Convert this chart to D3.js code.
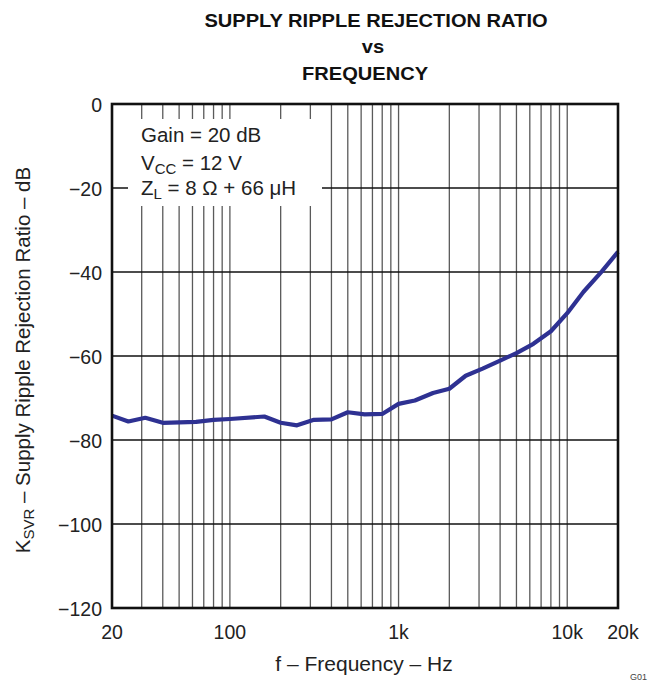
<!DOCTYPE html>
<html><head><meta charset="utf-8">
<script src="https://cdn.jsdelivr.net/npm/d3@7"></script>
<style>body{margin:0;background:#fff}svg{display:block;font-family:"Liberation Sans",Arial,sans-serif}</style>
</head><body><svg id="c" width="653" height="681"></svg>
<script>
const freqs = [20,25,31.5,40,63,80,100,160,200,250,315,400,500,630,800,1000,1250,1600,2000,2500,3150,4000,5000,6300,8000,10000,12500,16000,20000];
const ksvr  = [-74.2,-75.6,-74.7,-75.9,-75.7,-75.2,-75.0,-74.4,-75.9,-76.5,-75.2,-75.1,-73.4,-73.9,-73.8,-71.4,-70.6,-68.8,-67.8,-64.7,-63.0,-61.1,-59.3,-57.1,-54.1,-49.8,-44.7,-39.9,-35.2];
const xTicks = [20,100,1000,10000,20000];
const xTickLabels = ["20","100","1k","10k","20k"];
const yTicks = [0,-20,-40,-60,-80,-100,-120];
const yTickLabels = ["0","\u221220","\u221240","\u221260","\u221280","\u2212100","\u2212120"];
const titleLines = ["SUPPLY RIPPLE REJECTION RATIO","vs","FREQUENCY"];

const svg = d3.select("#c");
const L=112,R=618,T=104,B=608;
const x = d3.scaleLog().domain([20,20000]).range([L,R]);
const y = d3.scaleLinear().domain([-120,0]).range([B,T]);

// vertical grid lines
const vgrid = [];
[10,100,1000,10000].forEach(d=>{for(let k=1;k<10;k++){const f=d*k; if(f>20&&f<20000) vgrid.push(f);}});
const g = svg.append("g");
g.selectAll("line.v").data(vgrid).enter().append("line")
 .attr("x1",d=>x(d)).attr("x2",d=>x(d)).attr("y1",T).attr("y2",B)
 .attr("stroke","#5a5a5a").attr("stroke-width",1.3);
g.selectAll("line.h").data(yTicks.filter(d=>d>-120&&d<0)).enter().append("line")
 .attr("x1",L).attr("x2",R).attr("y1",d=>y(d)).attr("y2",d=>y(d))
 .attr("stroke","#111").attr("stroke-width",1.3);

// legend box (covers grid)
svg.append("rect").attr("x",128).attr("y",119).attr("width",194).attr("height",87).attr("fill","#fff");
const lfs = 20.5;
svg.append("text").attr("font-size",lfs).attr("fill","#222").attr("x",141).attr("y",142).text("Gain = 20 dB");
const l2 = svg.append("text").attr("font-size",lfs).attr("fill","#222").attr("x",141).attr("y",170);
l2.append("tspan").text("V");
l2.append("tspan").attr("font-size",15).attr("dy",4).text("CC");
l2.append("tspan").attr("dy",-4).text(" = 12 V");
const l3 = svg.append("text").attr("font-size",lfs).attr("fill","#222").attr("x",141).attr("y",195);
l3.append("tspan").text("Z");
l3.append("tspan").attr("font-size",15).attr("dy",4).text("L");
l3.append("tspan").attr("dy",-4).text(" = 8 \u03A9 + 66 \u03BCH");

// curve
svg.append("path").datum(freqs.map((f,i)=>[f,ksvr[i]]))
 .attr("d",d3.line().x(d=>x(d[0])).y(d=>y(d[1])))
 .attr("fill","none").attr("stroke","#2e3192").attr("stroke-width",4.2).attr("stroke-linejoin","round");

// frame
svg.append("rect").attr("x",L).attr("y",T).attr("width",R-L).attr("height",B-T)
 .attr("fill","none").attr("stroke","#111").attr("stroke-width",2.6);

// tick labels
svg.selectAll("text.yt").data(yTicks).enter().append("text")
 .attr("x",102).attr("y",d=>y(d)+7.5).attr("text-anchor","end").attr("font-size",19.5).attr("fill","#222")
 .text((d,i)=>yTickLabels[i]);
svg.selectAll("text.xt").data(xTicks).enter().append("text")
 .attr("x",d=>x(d)+ (d===20000?5:0)).attr("y",639).attr("text-anchor","middle").attr("font-size",19.5).attr("fill","#222")
 .text((d,i)=>xTickLabels[i]);

// axis titles
svg.append("text").attr("x",364).attr("y",671).attr("text-anchor","middle").attr("font-size",21).attr("fill","#222")
 .text("f \u2013 Frequency \u2013 Hz");
const yt = svg.append("text").attr("transform","translate(30,360) rotate(-90)").attr("text-anchor","middle")
 .attr("font-size",20.5).attr("fill","#222");
yt.append("tspan").text("K");
yt.append("tspan").attr("font-size",15).attr("dy",4).text("SVR");
yt.append("tspan").attr("dy",-4).text(" \u2013 Supply Ripple Rejection Ratio \u2013 dB");

// title
const tx=[376,373,365], ty=[27,53,80];
svg.selectAll("text.title").data(titleLines).enter().append("text")
 .attr("transform",(d,i)=>`translate(${tx[i]},${ty[i]}) scale(1.08,1)`)
 .attr("text-anchor","middle").attr("font-size",18.6).attr("font-weight","bold").attr("fill","#111")
 .text(d=>d);

svg.append("text").attr("x",630).attr("y",680).attr("font-size",9).attr("fill","#444").text("G01");
</script></body></html>
